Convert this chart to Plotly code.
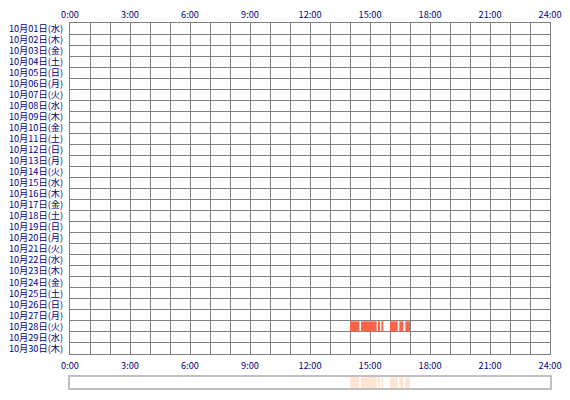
import plotly.graph_objects as go

# rows: one per day
days = list(range(1, 31))
weekdays = ["水", "木", "金", "土", "日", "月", "火"]
row_labels = ["10月%02d日(%s)" % (d, weekdays[(d - 1) % 7]) for d in days]

hour_ticks = [0, 3, 6, 9, 12, 15, 18, 21, 24]
hour_labels = ["%d:00" % h for h in hour_ticks]

# activity on 10/28 (start, end)
seg_day = 28
seg_start = ["14:00", "14:33", "15:24", "15:34", "16:00", "16:28", "16:46"]
seg_end = ["14:28", "15:20", "15:30", "15:40", "16:23", "16:40", "17:00"]


def to_h(s):
    h, m = s.split(":")
    return int(h) + int(m) / 60


base = [to_h(s) for s in seg_start]
dur = [to_h(e) - to_h(s) for s, e in zip(seg_start, seg_end)]

fig = go.Figure()
fig.add_trace(go.Bar(
    orientation="h", base=base, x=dur, y=[seg_day - 0.5] * len(base),
    width=0.92, marker=dict(color="#ff6347", line=dict(width=0)),
    hoverinfo="skip", showlegend=False,
))
fig.add_trace(go.Bar(
    orientation="h", base=base, x=dur, y=[0.5] * len(base),
    width=1, marker=dict(color="#ffe4d2", line=dict(width=0)),
    xaxis="x3", yaxis="y3", hoverinfo="skip", showlegend=False,
))
# invisible trace so the top axis is drawn
fig.add_trace(go.Scatter(x=[0, 24], y=[0, 0], xaxis="x2", yaxis="y",
                         mode="markers", marker=dict(opacity=0),
                         hoverinfo="skip", showlegend=False))

# page body has an 8px margin, so the figure is 16px smaller than the window
W, H = 554, 384
off = 8
left, right = (70 - off) / W, (550 - off) / W
font = dict(family="Noto Sans CJK JP", size=9.2, color="#000080")
grid = "#808080"
gw = 1.2

fig.update_layout(
    width=W, height=H,
    margin=dict(l=0, r=0, t=0, b=0, autoexpand=False),
    paper_bgcolor="white", plot_bgcolor="white",
    font=font,
    barmode="overlay",
    xaxis=dict(
        domain=[left, right], range=[0, 24], anchor="y", automargin=False,
        tickvals=hour_ticks, ticktext=hour_labels, ticks="",
        showgrid=True, gridcolor=grid, gridwidth=gw,
        minor=dict(dtick=1, tick0=0, showgrid=True, gridcolor=grid, gridwidth=gw),
        showline=True, linecolor=grid, linewidth=gw, mirror=True,
        zeroline=False, tickfont=font, ticklabelstandoff=3,
    ),
    xaxis2=dict(
        overlaying="x", side="top", range=[0, 24], anchor="y", automargin=False,
        tickvals=hour_ticks, ticktext=hour_labels, ticks="",
        showgrid=False, zeroline=False, tickfont=font, ticklabelstandoff=2,
    ),
    yaxis=dict(
        domain=[1 - (354 - off) / H, 1 - (23 - off) / H], range=[30, 0],
        automargin=False,
        tickvals=[d - 0.5 for d in days], ticktext=row_labels, ticks="",
        showgrid=False,
        minor=dict(tickvals=list(range(31)), showgrid=True, gridcolor=grid, gridwidth=gw),
        showline=True, linecolor=grid, linewidth=gw, mirror=True,
        zeroline=False, tickfont=font, ticklabelstandoff=4,
    ),
    xaxis3=dict(
        domain=[left, right], range=[0, 24], anchor="y3", automargin=False,
        showticklabels=False, showgrid=False, zeroline=False, ticks="",
        showline=True, linecolor="#c0c0c0", linewidth=1.5, mirror=True,
    ),
    yaxis3=dict(
        domain=[1 - (388 - off) / H, 1 - (377 - off) / H], range=[0, 1],
        anchor="x3", automargin=False,
        showticklabels=False, showgrid=False, zeroline=False, ticks="",
        showline=True, linecolor="#c0c0c0", linewidth=1.5, mirror=True,
    ),
)

fig.write_html("out.html")
